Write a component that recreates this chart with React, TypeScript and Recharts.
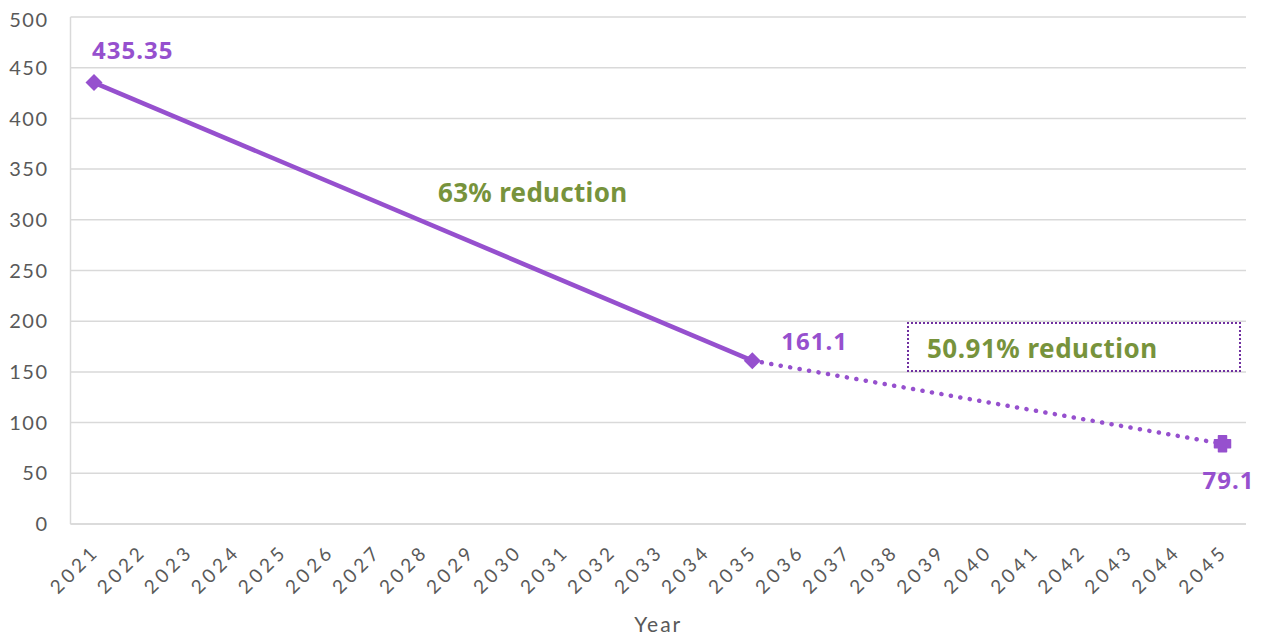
import { LineChart, Line, XAxis, YAxis, CartesianGrid } from "recharts";

const years = [
  "2021", "2022", "2023", "2024", "2025", "2026", "2027", "2028", "2029", "2030",
  "2031", "2032", "2033", "2034", "2035", "2036", "2037", "2038", "2039", "2040",
  "2041", "2042", "2043", "2044", "2045",
];

// solid segment: actual to 2035 target
const toTarget: (number | null)[] = [
  435.35, null, null, null, null, null, null, null, null, null,
  null, null, null, null, 161.1, null, null, null, null, null,
  null, null, null, null, null,
];

// dotted segment: 2035 to 2045
const toNetZero: (number | null)[] = [
  null, null, null, null, null, null, null, null, null, null,
  null, null, null, null, 161.1, null, null, null, null, null,
  null, null, null, null, 79.1,
];

const yTicks = [0, 50, 100, 150, 200, 250, 300, 350, 400, 450, 500];

const data = years.map((y, i) => ({ year: y, a: toTarget[i], b: toNetZero[i] }));

const PURPLE = "#9650CE";
const GREEN = "#77933C";
const GREY = "#595959";
const FONT = "Lato, 'Noto Sans', sans-serif";
const BOLD = "'Noto Sans', Lato, sans-serif";

const diamondDot = (props: any) => {
  const { cx, cy, value, index } = props;
  if (value == null || cx == null) return <g key={index} />;
  const r = 8.5;
  return (
    <path
      key={index}
      d={`M${cx},${cy - r} L${cx + r},${cy} L${cx},${cy + r} L${cx - r},${cy} Z`}
      fill={PURPLE}
    />
  );
};

const plusDot = (props: any) => {
  const { cx, cy, value, index } = props;
  if (value == null || cx == null || index !== years.length - 1) return <g key={index} />;
  const a = 8, b = 4;
  return (
    <path
      key={index}
      d={`M${cx - b},${cy - a} H${cx + b} V${cy - b} H${cx + a} V${cy + b} H${cx + b} V${cy + a} H${cx - b} V${cy + b} H${cx - a} V${cy - b} H${cx - b} Z`}
      fill={PURPLE}
      stroke={PURPLE}
      strokeWidth={1.5}
      strokeLinejoin="round"
    />
  );
};

const valueLabel = (props: any) => {
  const { x, y, value, index } = props;
  if (value == null) return null;
  let dx = 0, dy = 0;
  if (index === 0) { dx = -2; dy = -33; }
  else if (index === 14) { dx = 29; dy = -20; }
  else if (index === years.length - 1) { dx = -20; dy = 36; }
  else return null;
  return (
    <text
      x={x + dx}
      y={y + dy}
      textAnchor="start"
      dominantBaseline="central"
      fill={PURPLE}
      fontSize={24}
      fontWeight={700}
      fontFamily={BOLD}
      letterSpacing={1}
    >
      {value}
    </text>
  );
};

export default function App() {
  return (
    <div style={{ position: "relative", width: 1250, height: 629 }}>
      <LineChart
        width={1250}
        height={629}
        data={data}
        margin={{ top: 9, right: 12, left: 0, bottom: 0 }}
      >
        <CartesianGrid vertical={false} stroke="#d9d9d9" strokeWidth={1.5} />
        <XAxis
          dataKey="year"
          interval={0}
          height={113}
          padding={{ left: 23.5, right: 23.5 }}
          tickLine={false}
          axisLine={{ stroke: "#d9d9d9", strokeWidth: 1.5 }}
          angle={-45}
          textAnchor="end"
          tickMargin={13}
          tick={{ fill: GREY, fontSize: 19, fontFamily: FONT, letterSpacing: 4, dx: -3 }}
          label={{
            value: "Year",
            position: "insideBottom",
            offset: 5,
            fill: GREY,
            fontSize: 21,
            fontFamily: FONT,
            letterSpacing: 2,
          }}
        />
        <YAxis
          domain={[0, 500]}
          ticks={yTicks}
          width={62.5}
          tickLine={false}
          axisLine={{ stroke: "#d9d9d9", strokeWidth: 1.5 }}
          tickMargin={16}
          tick={{ fill: GREY, fontSize: 20, fontFamily: FONT, letterSpacing: 1.5 }}
        />
        <Line
          dataKey="a"
          stroke={PURPLE}
          strokeWidth={4.5}
          connectNulls
          dot={diamondDot}
          activeDot={false}
          label={valueLabel}
          isAnimationActive={false}
        />
        <Line
          dataKey="b"
          stroke={PURPLE}
          strokeWidth={4.5}
          strokeDasharray="0.1 9.5"
          strokeLinecap="round"
          connectNulls
          dot={plusDot}
          activeDot={false}
          label={(p: any) => (p.index === years.length - 1 ? valueLabel(p) : null)}
          isAnimationActive={false}
        />
      </LineChart>
      <div
        style={{
          position: "absolute",
          left: 430,
          top: 166,
          color: GREEN,
          fontFamily: BOLD,
          fontWeight: 700,
          fontSize: 26,
          letterSpacing: 0.3,
          whiteSpace: "nowrap",
        }}
      >
        63% reduction
      </div>
      <div
        style={{
          position: "absolute",
          left: 899,
          top: 314,
          width: 330,
          height: 46,
          border: "2px dotted #7030A0",
          color: GREEN,
          fontFamily: BOLD,
          fontWeight: 700,
          fontSize: 26,
          letterSpacing: 0.5,
          whiteSpace: "nowrap",
          boxSizing: "content-box",
        }}
      >
        <span style={{ position: "absolute", left: 18, top: 6 }}>50.91% reduction</span>
      </div>
    </div>
  );
}
